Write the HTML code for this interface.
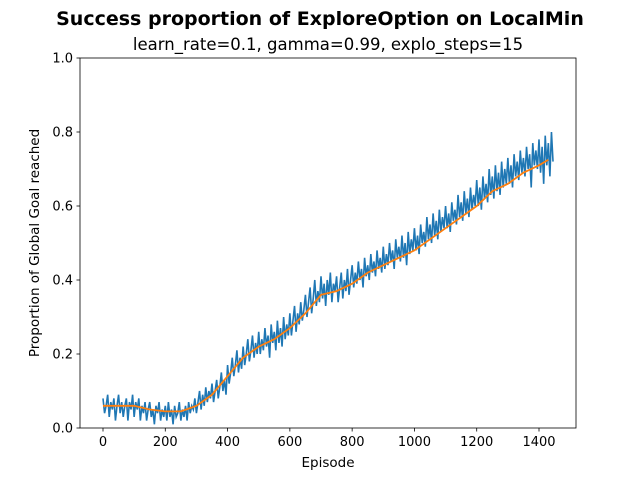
<!DOCTYPE html>
<html><head><meta charset="utf-8"><style>
body{margin:0;background:#fff;}
svg text{font-family:"DejaVu Sans","Liberation Sans",sans-serif;fill:#000;}
</style></head><body>
<svg id="chart" width="640" height="480" xmlns="http://www.w3.org/2000/svg">
<rect width="640" height="480" fill="#fff"/>
<text x="320" y="25" text-anchor="middle" font-size="19" font-weight="bold">Success proportion of ExploreOption on LocalMin</text>
<text x="328" y="50" text-anchor="middle" font-size="16.5">learn_rate=0.1, gamma=0.99, explo_steps=15</text>
<g id="plot"></g>
<rect x="80" y="58" width="496" height="370" fill="none" stroke="#000" stroke-width="0.8"/>
<text x="328" y="467" text-anchor="middle" font-size="13.5">Episode</text>
<text transform="translate(39,243) rotate(-90)" text-anchor="middle" font-size="13.5">Proportion of Global Goal reached</text>
</svg>
<script>
const xTicks=[0,200,400,600,800,1000,1200,1400];
const yTicks=[0.0,0.2,0.4,0.6,0.8,1.0];
const rawValues=[.08,.04,.06,.09,.03,.07,.05,.08,.02,.06,
.09,.04,.07,.03,.06,.08,.02,.07,.05,.09,
.03,.07,.05,.08,.02,.06,.04,.07,.02,.05,
.07,.03,.05,.01,.06,.04,.07,.02,.05,.03,
.06,.02,.07,.03,.05,.01,.06,.03,.04,.07,
.02,.05,.03,.06,.02,.07,.04,.06,.05,.08,
.04,.07,.10,.05,.09,.06,.11,.07,.10,.08,
.12,.07,.10,.13,.08,.11,.15,.10,.13,.09,
.17,.12,.15,.19,.14,.17,.21,.15,.19,.16,
.22,.17,.20,.24,.18,.21,.25,.19,.23,.20,
.26,.20,.24,.21,.27,.22,.25,.19,.28,.23,
.26,.21,.29,.23,.27,.22,.30,.24,.28,.25,
.31,.25,.29,.33,.26,.31,.28,.34,.29,.32,
.36,.30,.34,.38,.31,.35,.40,.33,.37,.34,
.41,.35,.39,.33,.40,.36,.42,.34,.39,.37,
.41,.34,.38,.42,.35,.40,.37,.43,.36,.40,
.44,.38,.42,.39,.45,.40,.43,.38,.46,.41,
.44,.40,.47,.42,.45,.41,.48,.43,.46,.42,
.49,.43,.47,.44,.50,.45,.48,.43,.51,.46,
.49,.45,.52,.46,.50,.44,.53,.47,.51,.48,
.54,.48,.52,.47,.55,.50,.53,.49,.57,.51,
.55,.50,.58,.52,.56,.51,.59,.53,.57,.54,
.60,.54,.58,.53,.61,.56,.59,.55,.63,.57,
.61,.56,.64,.58,.62,.57,.65,.59,.63,.60,
.67,.60,.65,.59,.68,.62,.66,.61,.70,.63,
.68,.62,.71,.64,.69,.63,.72,.65,.70,.66,
.73,.66,.71,.65,.74,.68,.72,.67,.75,.69,
.73,.68,.76,.70,.74,.65,.77,.71,.75,.70,
.78,.69,.76,.66,.79,.71,.77,.68,.80,.72];
const rawEpisodeStep=5;
const avgEpisodes=[0,50,100,150,200,250,300,350,400,450,500,550,600,650,700,750,800,850,900,950,1000,1050,1100,1150,1200,1250,1300,1350,1400,1430];
const avgValues=[0.06,0.06,0.06,0.05,0.045,0.045,0.06,0.09,0.14,0.19,0.22,0.24,0.27,0.31,0.36,0.37,0.39,0.42,0.44,0.46,0.48,0.51,0.54,0.57,0.60,0.64,0.66,0.69,0.71,0.725];

const NS="http://www.w3.org/2000/svg";
const X=v=>103+v*(436/1400);
const Y=v=>428-v*370;
const g=document.getElementById('plot');
function mk(t,a){const e=document.createElementNS(NS,t);for(const k in a)e.setAttribute(k,a[k]);g.appendChild(e);return e;}
xTicks.forEach(t=>{
 const l=mk('line',{x1:X(t),x2:X(t),y1:428,y2:431.5,stroke:'#000','stroke-width':0.8});
 
 
 const s=mk('text',{x:X(t),y:446,'text-anchor':'middle','font-size':13});s.textContent=t;
 
 
});
yTicks.forEach(t=>{
 const l=mk('line',{x1:76.5,x2:80,y1:Y(t),y2:Y(t),stroke:'#000','stroke-width':0.8});
 
 
 const s=mk('text',{x:73,y:Y(t)+4.5,'text-anchor':'end','font-size':13});s.textContent=t.toFixed(1);
 
 
});
const raw=mk('polyline',{points:rawValues.map((v,i)=>X(i*rawEpisodeStep)+','+Y(v)).join(' '),fill:'none',stroke:'#1f77b4','stroke-width':1.6});


const avg=mk('polyline',{points:avgValues.map((v,i)=>X(avgEpisodes[i])+','+Y(v)).join(' '),fill:'none',stroke:'#ff7f0e','stroke-width':1.8});


</script>
</body></html>
